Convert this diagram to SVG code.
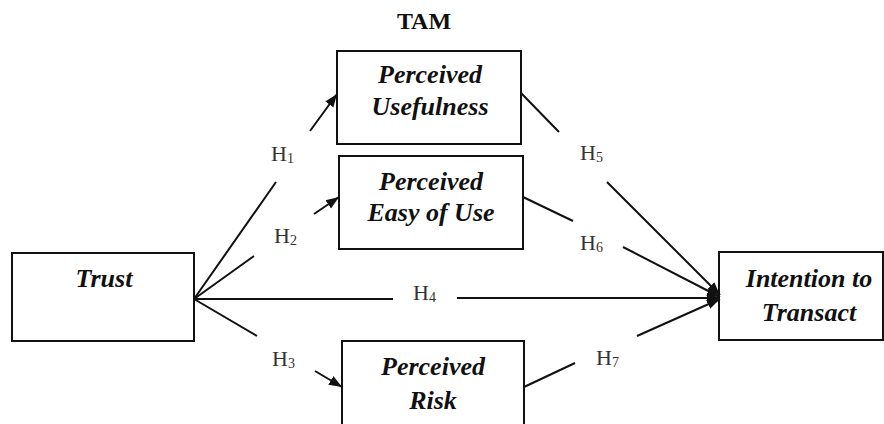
<svg xmlns="http://www.w3.org/2000/svg" width="884" height="424" viewBox="0 0 884 424">
<style>
.box{fill:#fff;stroke:#111;stroke-width:2}
.lbl{font-family:"Liberation Serif","Times New Roman",serif;font-weight:bold;font-style:italic;font-size:26px;fill:#111;text-anchor:middle}
.h{font-family:"Liberation Serif","Times New Roman",serif;font-size:22px;fill:#333}
.sub{font-size:14px}
.ln{fill:none;stroke:#111;stroke-width:2}
</style>
<defs>
<marker id="ah" markerUnits="userSpaceOnUse" markerWidth="14" markerHeight="12" refX="13" refY="6" orient="auto">
<path d="M0,1 L13,6 L0,11 Z" fill="#111"/>
</marker>
</defs>
<text x="424" y="29" style="font-family:'Liberation Serif','Times New Roman',serif;font-weight:bold;font-size:24px;fill:#111" text-anchor="middle">TAM</text>
<g id="trust"><rect class="box" x="12" y="253" width="182" height="88"/><text class="lbl" x="104" y="287">Trust</text></g>
<g id="pu"><rect class="box" x="337" y="51" width="184" height="93"/><text class="lbl" x="430" y="83">Perceived</text><text class="lbl" x="430" y="115">Usefulness</text></g>
<g id="peu"><rect class="box" x="339" y="156" width="184" height="93"/><text class="lbl" x="431" y="190">Perceived</text><text class="lbl" x="431" y="221">Easy of Use</text></g>
<g id="pr"><rect class="box" x="342" y="341" width="182" height="100"/><text class="lbl" x="433" y="375">Perceived</text><text class="lbl" x="433" y="409">Risk</text></g>
<g id="itt"><rect class="box" x="719" y="252" width="164" height="88"/><text class="lbl" x="809" y="287">Intention to</text><text class="lbl" x="809" y="321">Transact</text></g>
<g id="connectors">
<path class="ln" d="M194,299 L276,182 M310,131 L337,94" marker-end="url(#ah)"/>
<path class="ln" d="M194,299 L254,256 M314,214 L339,197" marker-end="url(#ah)"/>
<path class="ln" d="M194,299 L257,336 M315,371 L342,387" marker-end="url(#ah)"/>
<path class="ln" d="M194,299 L393,299 M457,298 L720,298" marker-end="url(#ah)"/>
<path class="ln" d="M521,93 L559,132 M607,182 L720,295" marker-end="url(#ah)"/>
<path class="ln" d="M523,197 L573,221 M623,247 L720,297" marker-end="url(#ah)"/>
<path class="ln" d="M524,387 L575,363 M637,336 L720,299" marker-end="url(#ah)"/>
</g>
<g id="labels">
<text class="h" x="271" y="161">H<tspan class="sub" dy="2">1</tspan></text>
<text class="h" x="274" y="243">H<tspan class="sub" dy="2">2</tspan></text>
<text class="h" x="272" y="366">H<tspan class="sub" dy="2">3</tspan></text>
<text class="h" x="413" y="300">H<tspan class="sub" dy="2">4</tspan></text>
<text class="h" x="580" y="160">H<tspan class="sub" dy="2">5</tspan></text>
<text class="h" x="580" y="250">H<tspan class="sub" dy="2">6</tspan></text>
<text class="h" x="596" y="365">H<tspan class="sub" dy="2">7</tspan></text>
</g>
</svg>
